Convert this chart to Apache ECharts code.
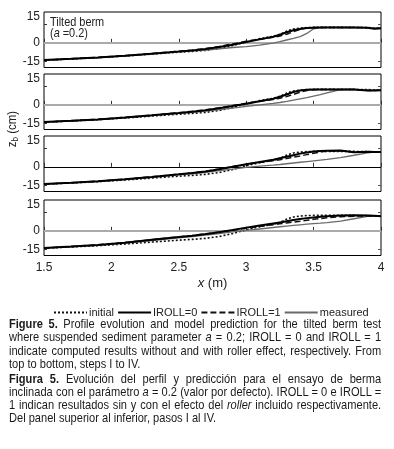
<!DOCTYPE html>
<html>
<head>
<meta charset="utf-8">
<script src="https://cdn.jsdelivr.net/npm/echarts@6/dist/echarts.min.js"></script>
<style>
  html, body { margin: 0; padding: 0; background: #fff; }
  #wrap { position: relative; width: 394px; height: 449px; }
  #box { width: 394px; height: 449px; }
  .cap {
    position: absolute; left: 9px;
    font-family: 'Liberation Sans', Arial, sans-serif;
    font-size: 13.2px; line-height: 13.3px; color: #1a1a1a;
  }
  /* narrow face is not installed, so squeeze the lines instead */
  .cap div {
    width: 443px; transform: scaleX(0.84); transform-origin: 0 0;
    text-align: justify; text-align-last: justify; white-space: nowrap;
  }
  .cap div.last { text-align: left; text-align-last: left; }
</style>
</head>
<body>
<div id="wrap">
  <div id="box"></div>
  <!-- caption under the figure -->
  <div class="cap" style="top:317px">
    <div><b>Figure 5.</b> Profile evolution and model prediction for the tilted berm test</div>
    <div>where suspended sediment parameter <i>a</i> = 0.2; IROLL = 0 and IROLL = 1</div>
    <div>indicate computed results without and with roller effect, respectively. From</div>
    <div class="last">top to bottom, steps I to IV.</div>
  </div>
  <div class="cap" style="top:371.5px">
    <div><b>Figura 5.</b> Evolución del perfil y predicción para el ensayo de berma</div>
    <div>inclinada con el parámetro <i>a</i> = 0.2 (valor por defecto). IROLL = 0 e IROLL =</div>
    <div>1 indican resultados sin y con el efecto del <i>roller</i> incluido respectivamente.</div>
    <div class="last">Del panel superior al inferior, pasos I al IV.</div>
  </div>
</div>
<script>
// x positions (m) shared by all profiles
var xs = [1.5, 1.7, 1.9, 2.1, 2.3, 2.5, 2.6, 2.7, 2.8, 2.9, 3.0, 3.1, 3.2, 3.25, 3.3, 3.35, 3.4, 3.45, 3.5, 3.55, 3.6, 3.7, 3.8, 3.9, 3.95, 4.0];

// initial profile (same in every panel)
var initialZ = [-14.0, -13.1, -12.0, -10.7, -9.1, -7.6, -6.9, -6.1, -4.6, -2.2, 0.8, 3.4, 5.3, 6.9, 9.5, 11.2, 12.0, 12.4, 12.5, 12.5, 12.5, 12.5, 12.5, 12.4, 12.0, 11.8];

// step I
var p1Roll0 = [-14.0, -13.0, -11.9, -10.5, -8.8, -7.1, -6.2, -5.0, -3.4, -1.5, 0.6, 2.8, 5.0, 6.6, 8.6, 10.2, 11.3, 12.0, 12.3, 12.4, 12.4, 12.4, 12.4, 12.3, 11.4, 11.8];
var p1Roll1 = [-14.0, -13.0, -11.8, -10.4, -8.7, -6.9, -5.9, -4.6, -2.9, -0.9, 1.3, 3.0, 4.5, 5.5, 7.0, 9.0, 11.0, 12.2, 12.4, 12.4, 12.4, 12.4, 12.4, 12.3, 11.6, 11.8];
var p1Meas = [-14.2, -13.2, -12.0, -10.6, -9.0, -7.3, -6.6, -5.8, -4.8, -3.8, -3.0, -1.9, -0.2, 0.9, 2.3, 3.6, 5.0, 7.6, 11.4, 12.3, 12.5, 12.5, 12.4, 12.3, 11.8, 11.6];
// step II
var p2Roll0 = [-14.0, -13.0, -11.8, -10.3, -8.5, -6.6, -5.6, -4.4, -2.8, -1.0, 0.9, 2.9, 5.0, 6.5, 8.4, 10.4, 11.7, 12.3, 12.4, 12.4, 12.5, 12.5, 12.4, 11.6, 11.6, 11.8];
var p2Roll1 = [-14.0, -12.9, -11.7, -10.2, -8.4, -6.4, -5.3, -4.0, -2.4, -0.6, 1.2, 2.9, 4.4, 5.4, 6.7, 8.4, 10.3, 11.7, 12.3, 12.4, 12.5, 12.5, 12.4, 11.7, 11.6, 11.8];
var p2Meas = [-14.1, -13.1, -12.0, -10.5, -8.8, -6.9, -6.0, -5.0, -3.9, -2.6, -1.3, -0.1, 1.1, 1.9, 2.8, 3.8, 4.8, 5.8, 7.0, 8.2, 9.6, 12.3, 12.6, 12.0, 11.7, 11.8];
// step III
var p3Roll0 = [-14.0, -12.9, -11.7, -10.1, -8.2, -6.1, -5.0, -3.7, -2.0, 0.0, 2.1, 3.9, 5.7, 6.9, 8.1, 9.4, 10.7, 11.7, 12.5, 12.9, 13.1, 13.2, 11.8, 12.3, 12.1, 12.0];
var p3Roll1 = [-14.0, -12.9, -11.6, -10.0, -8.1, -6.0, -4.9, -3.5, -1.8, 0.2, 2.0, 3.6, 5.0, 5.8, 6.8, 7.8, 8.8, 9.9, 11.0, 12.1, 12.7, 13.0, 12.0, 12.3, 12.1, 12.0];
var p3Meas = [-14.1, -13.0, -11.9, -10.4, -8.6, -6.6, -5.6, -4.4, -3.1, -1.8, -0.5, 0.5, 1.4, 1.9, 2.5, 3.1, 3.7, 4.3, 4.9, 5.5, 6.1, 7.5, 9.4, 11.4, 12.0, 12.0];
// step IV
var p4Roll0 = [-14.0, -12.8, -11.4, -9.6, -7.3, -5.0, -3.9, -2.6, -1.1, 0.7, 2.6, 4.4, 6.0, 6.8, 7.8, 8.8, 9.6, 10.3, 10.9, 11.4, 11.9, 12.4, 12.6, 12.5, 12.2, 11.8];
var p4Roll1 = [-14.0, -12.8, -11.3, -9.5, -7.2, -4.9, -3.8, -2.5, -1.0, 0.5, 2.1, 3.6, 5.0, 5.7, 6.4, 7.1, 7.8, 8.6, 9.3, 10.0, 10.6, 11.4, 11.9, 12.1, 12.0, 11.8];
var p4Meas = [-14.1, -13.0, -11.7, -10.0, -7.9, -5.7, -4.6, -3.4, -2.2, -0.9, 0.3, 1.5, 2.7, 3.3, 3.9, 4.4, 4.9, 5.4, 5.8, 6.2, 6.7, 7.8, 9.8, 11.7, 12.0, 11.9];

var yTicks = [-15, 0, 15];
var xTicks = [1.5, 2, 2.5, 3, 3.5, 4];

var panels = [
  { roll0: p1Roll0, roll1: p1Roll1, meas: p1Meas, zeroColor: '#aaaaaa', zeroWidth: 2 },
  { roll0: p2Roll0, roll1: p2Roll1, meas: p2Meas, zeroColor: '#aaaaaa', zeroWidth: 2 },
  { roll0: p3Roll0, roll1: p3Roll1, meas: p3Meas, zeroColor: '#000000', zeroWidth: 1 },
  { roll0: p4Roll0, roll1: p4Roll1, meas: p4Meas, zeroColor: '#aaaaaa', zeroWidth: 2 }
];

var FONT = "'Liberation Sans', Arial, sans-serif";
var panelTops = [12, 74, 136, 200];
var panelH = 55.5;

function pairs(zs) {
  return xs.map(function (x, i) { return [x, zs[i]]; });
}

var myChart = echarts.init(document.getElementById('box'));

var grids = [], xAxes = [], yAxes = [], series = [];

panels.forEach(function (p, i) {
  grids.push({
    left: 44, right: 13, top: panelTops[i], height: panelH,
    show: true, borderColor: '#000', borderWidth: 1, backgroundColor: 'transparent'
  });
  var last = i === panels.length - 1;
  xAxes.push({
    type: 'value', gridIndex: i, min: 1.5, max: 4, interval: 0.5,
    axisLine: { show: false },
    axisTick: { show: true, inside: true, length: 4, lineStyle: { color: '#333' } },
    splitLine: { show: false },
    axisLabel: {
      show: last, margin: 6, color: '#222', fontSize: 12, fontFamily: FONT,
      formatter: function (v) { return xTicks.indexOf(v) >= 0 ? String(v) : ''; }
    },
    name: last ? '{i|x} (m)' : '',
    nameLocation: 'middle', nameGap: 21,
    nameTextStyle: { color: '#222', fontSize: 13, fontFamily: FONT, rich: { i: { fontStyle: 'italic', fontSize: 13, fontFamily: FONT, color: '#222' } } }
  });
  // left axis with labels
  yAxes.push({
    type: 'value', gridIndex: i, min: -20, max: 25, position: 'left',
    axisLine: { show: false },
    splitLine: { show: false },
    axisTick: { show: true, inside: true, length: 3, customValues: yTicks, lineStyle: { color: '#333' } },
    axisLabel: {
      margin: 4, color: '#222', fontSize: 12, fontFamily: FONT, customValues: yTicks,
      formatter: function (v) { return v === 15 ? '{up|15}' : String(v); },
      rich: { up: { padding: [0, 0, 16, 0], fontSize: 12, fontFamily: FONT, color: '#222' } }
    }
  });
  // right axis, ticks only
  yAxes.push({
    type: 'value', gridIndex: i, min: -20, max: 25, position: 'right',
    axisLine: { show: false },
    splitLine: { show: false },
    axisTick: { show: true, inside: true, length: 3, customValues: yTicks, lineStyle: { color: '#555' } },
    axisLabel: { show: false }
  });

  series.push({
    name: 'initial', type: 'line', xAxisIndex: i, yAxisIndex: i * 2,
    data: pairs(initialZ), symbol: 'none', z: 3,
    lineStyle: { color: '#111', width: 1.6, type: [2, 2] },
    itemStyle: { color: '#111' },
    markLine: {
      silent: true, symbol: 'none', z: 1, label: { show: false },
      lineStyle: { color: p.zeroColor, width: p.zeroWidth, type: 'solid' },
      data: [{ yAxis: 0 }]
    }
  });
  series.push({
    name: 'IROLL=0', type: 'line', xAxisIndex: i, yAxisIndex: i * 2,
    data: pairs(p.roll0), symbol: 'none', z: 5,
    lineStyle: { color: '#000', width: 2 },
    itemStyle: { color: '#000' }
  });
  series.push({
    name: 'IROLL=1', type: 'line', xAxisIndex: i, yAxisIndex: i * 2,
    data: pairs(p.roll1), symbol: 'none', z: 4,
    lineStyle: { color: '#111', width: 1.5, type: [6, 3] },
    itemStyle: { color: '#111' }
  });
  series.push({
    name: 'measured', type: 'line', xAxisIndex: i, yAxisIndex: i * 2,
    data: pairs(p.meas), symbol: 'none', z: 3,
    lineStyle: { color: '#6a6a6a', width: 1.3 },
    itemStyle: { color: '#6a6a6a' }
  });
});

var option = {
  animation: false,
  backgroundColor: '#fff',
  grid: grids,
  xAxis: xAxes,
  yAxis: yAxes,
  series: series,
  legend: {
    data: ['initial', 'IROLL=0', 'IROLL=1', 'measured'],
    left: 48, top: 302,
    itemWidth: 33, itemHeight: 12, itemGap: 3,
    selectedMode: false,
    // hide the round marker, keep only the line sample
    itemStyle: { opacity: 0 },
    textStyle: { fontSize: 11, fontFamily: FONT, color: '#222', padding: [0, 0, 0, -3] }
  },
  graphic: [
    {
      type: 'text', left: 50, top: 16, scaleX: 0.84,
      style: { text: 'Tilted berm', font: '13px ' + FONT, fill: '#222' }
    },
    {
      type: 'text', left: 50, top: 27, scaleX: 0.84,
      style: {
        text: '({i|a} =0.2)', font: '13px ' + FONT, fill: '#222',
        rich: { i: { fontStyle: 'italic', fontSize: 13, fontFamily: FONT, fill: '#222' } }
      }
    },
    {
      type: 'text', x: 12, y: 129, rotation: Math.PI / 2, scaleX: 0.85,
      style: {
        text: 'z{b|b} (cm)', font: '13.5px ' + FONT, fill: '#222',
        align: 'center', verticalAlign: 'middle',
        rich: { b: { fontSize: 9.5, fontFamily: FONT, fill: '#222', padding: [6, 0, 0, 0] } }
      }
    }
  ]
};

myChart.setOption(option);
</script>
</body>
</html>
